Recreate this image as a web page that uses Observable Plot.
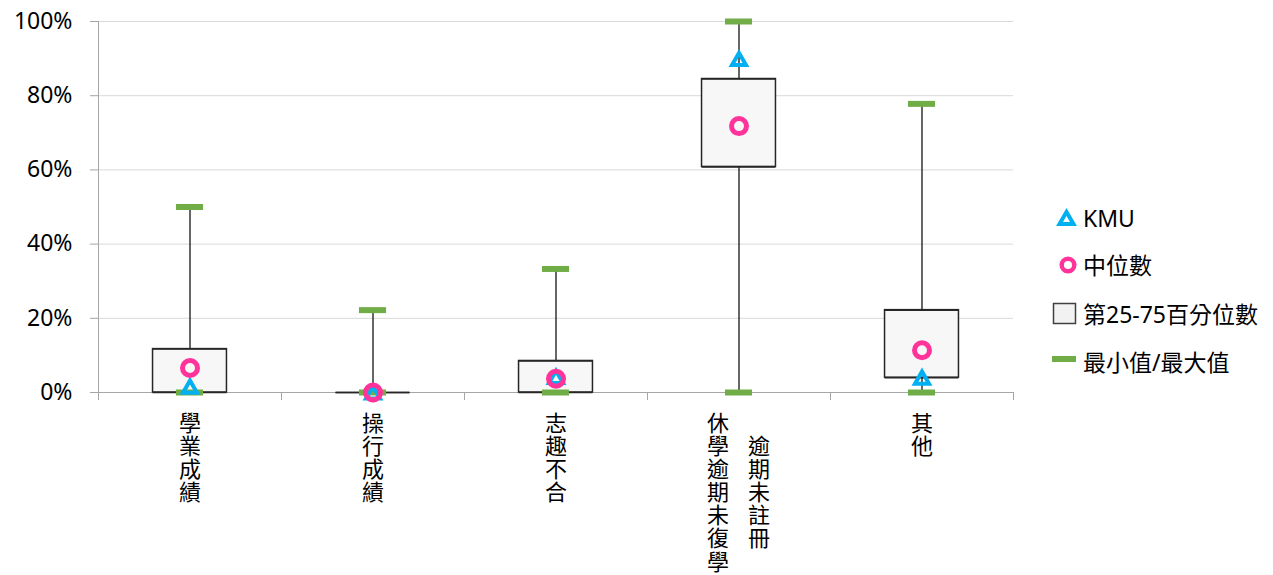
<!DOCTYPE html>
<html><head><meta charset="utf-8">
<script src="https://cdn.jsdelivr.net/npm/d3@7"></script>
<script src="https://cdn.jsdelivr.net/npm/@observablehq/plot@0.6"></script>
<style>
body{margin:0;background:#fff;font-family:"Noto Sans","Noto Sans CJK TC",sans-serif;}
#wrap{position:relative;width:1273px;height:575px;overflow:hidden}
#legend{position:absolute;left:0;top:0;width:1273px;height:575px;pointer-events:none}
.lt{position:absolute;left:1083px;font-size:23px;line-height:23px;color:#000;white-space:nowrap;transform:translateY(-50%)}
</style></head><body><div id="wrap"><div id="chart"></div><div id="legend"></div></div>
<script>
// ---- data ----
const categories = ["學業成績", "操行成績", "志趣不合", "休學逾期未復學 逾期未註冊", "其他"];
const labelLines = [["學業成績"], ["操行成績"], ["志趣不合"], ["休學逾期未復學", "逾期未註冊"], ["其他"]];
const minVals    = [0, 0, 0, 0, 0];
const q1Vals     = [0, 0, 0, 0.608, 0.040];
const medianVals = [0.066, 0, 0.037, 0.718, 0.114];
const q3Vals     = [0.117, 0, 0.085, 0.845, 0.222];
const maxVals    = [0.50, 0.222, 0.333, 1.00, 0.778];
const kmuVals    = [0.016, 0, 0.042, 0.899, 0.040];
const yTicks     = [0, 0.2, 0.4, 0.6, 0.8, 1];
const legendLabels = ["KMU", "中位數", "第25-75百分位數", "最小值/最大值"];

// ---- build table ----
const rows = categories.map((c, i) => ({
  i, cat: c, lines: labelLines[i],
  min: minVals[i], q1: q1Vals[i], median: medianVals[i], q3: q3Vals[i], max: maxVals[i], kmu: kmuVals[i]
}));
const BOX = 0.202, CAP = 0.074;
const CYAN = "#00b0f0", PINK = "#ff3399", GREEN = "#70ad47";
const vert = s => s.split("").join("\n");

const triSymbol = {draw(ctx, size) {
  const R = Math.sqrt(size / Math.PI), h = R * Math.sqrt(3) / 2;
  ctx.moveTo(0, -h); ctx.lineTo(R, h); ctx.lineTo(-R, h); ctx.closePath();
}};

const single = rows.filter(d => d.lines.length === 1);
const dbl = rows.filter(d => d.lines.length === 2);
const labelStyle = {x: "i", y: d => 0, lineAnchor: "top", lineHeight: 1.05, fontSize: 22, fill: "#000"};

const chart = Plot.plot({
  width: 1273, height: 575,
  marginLeft: 98, marginRight: 260, marginTop: 21, marginBottom: 183,
  x: {domain: [-0.5, categories.length - 0.5], label: null},
  y: {domain: [0, 1], label: null},
  style: {fontFamily: '"Noto Sans","Noto Sans CJK TC",sans-serif', fontSize: "23px", background: "white", color: "#000"},
  marks: [
    Plot.gridY(yTicks.filter(d => d > 0), {stroke: "#d9d9d9", strokeOpacity: 1}),
    Plot.axisY({ticks: yTicks, tickFormat: d => Math.round(d * 100) + "%", tickSize: 8, tickPadding: 18, fontSize: 23, stroke: "#a6a6a6", fill: "#000", label: null}),
    Plot.axisX({ticks: d3.range(categories.length + 1).map(k => k - 0.5), tickFormat: () => "", tickSize: 8, stroke: "#a6a6a6", label: null}),
    Plot.ruleX([-0.5], {stroke: "#a6a6a6"}),
    Plot.ruleY([0], {stroke: "#a6a6a6"}),
    // whiskers
    Plot.ruleX(rows, {x: "i", y1: "min", y2: "q1", stroke: "#000", strokeWidth: 1.2}),
    Plot.ruleX(rows, {x: "i", y1: "q3", y2: "max", stroke: "#000", strokeWidth: 1.2}),
    // boxes
    Plot.rect(rows, {x1: d => d.i - BOX, x2: d => d.i + BOX, y1: "q1", y2: "q3", fill: "#f7f7f7", stroke: "#262626", strokeWidth: 1.5}),
    Plot.ruleY(rows, {x1: d => d.i - BOX, x2: d => d.i + BOX, y: "q1", stroke: "#262626", strokeWidth: 1.5}),
    Plot.ruleY(rows, {x1: d => d.i - BOX, x2: d => d.i + BOX, y: "q3", stroke: "#262626", strokeWidth: 1.5}),
    // min / max caps
    Plot.ruleY(rows, {x1: d => d.i - CAP, x2: d => d.i + CAP, y: "min", stroke: GREEN, strokeWidth: 6}),
    Plot.ruleY(rows, {x1: d => d.i - CAP, x2: d => d.i + CAP, y: "max", stroke: GREEN, strokeWidth: 6}),
    // KMU
    Plot.dot(rows, {x: "i", y: "kmu", symbol: triSymbol, r: 7, fill: "none", stroke: CYAN, strokeWidth: 4}),
    // median
    Plot.dot(rows, {x: "i", y: "median", r: 7.5, fill: "none", stroke: PINK, strokeWidth: 5}),
    // category labels (vertical)
    Plot.text(single, {...labelStyle, text: d => vert(d.lines[0]), dy: 22}),
    Plot.text(dbl, {...labelStyle, text: d => vert(d.lines[0]), dy: 22, dx: -21}),
    Plot.text(dbl, {...labelStyle, text: d => vert(d.lines[1]), dy: 45, dx: 20})
  ]
});
document.getElementById("chart").appendChild(chart);

// ---- legend ----
const lg = document.getElementById("legend");
const ys = [218, 265, 314, 362];
lg.innerHTML = `<svg width="1273" height="575" style="position:absolute;left:0;top:0">
  <path d="M1066.5,${ys[0]-6.1} L1073.5,${ys[0]+6.1} L1059.5,${ys[0]+6.1} Z" fill="none" stroke="${CYAN}" stroke-width="4"/>
  <circle cx="1068" cy="${ys[1]}" r="6.3" fill="none" stroke="${PINK}" stroke-width="4.5"/>
  <rect x="1053.5" y="${ys[2]-10.5}" width="22" height="20" fill="#f2f2f2" stroke="#404040" stroke-width="1.5"/>
  <line x1="1052" x2="1076" y1="${ys[3]-3}" y2="${ys[3]-3}" stroke="${GREEN}" stroke-width="6"/>
</svg>` + legendLabels.map((t, k) => `<div class="lt" style="top:${ys[k]}px">${t}</div>`).join("");
</script>
</body></html>
